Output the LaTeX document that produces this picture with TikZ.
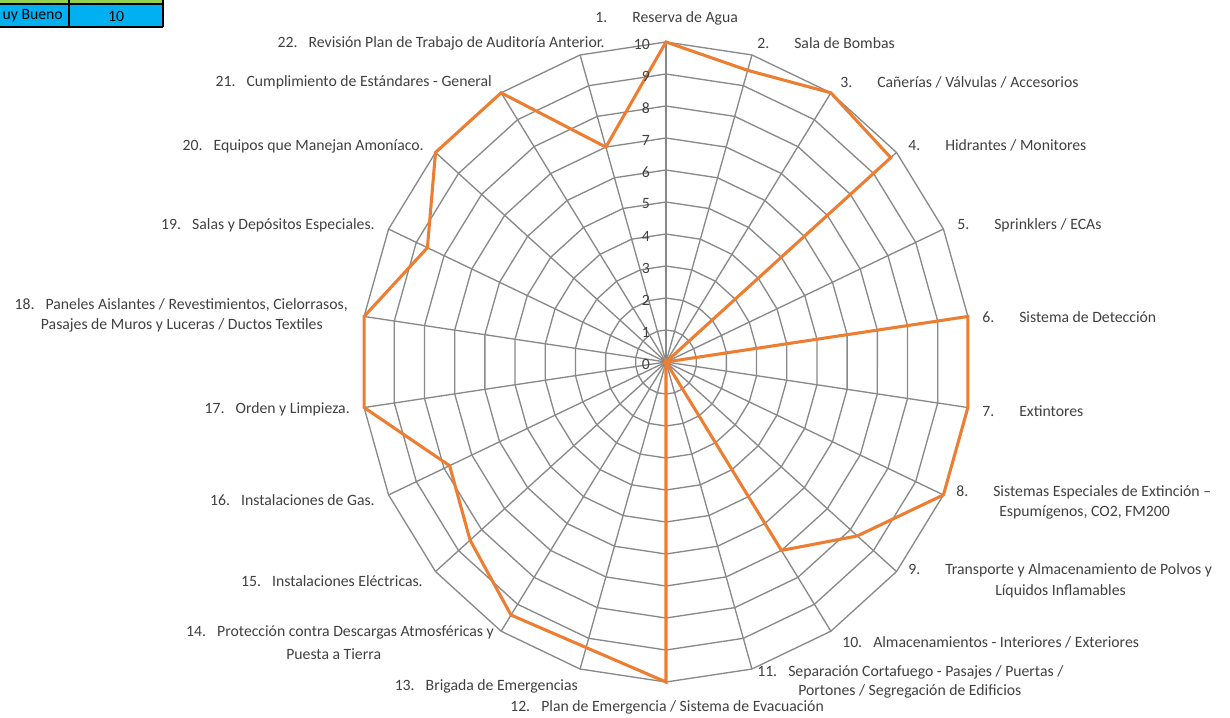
\documentclass[tikz,border=0pt]{standalone}
\usepackage{fontspec}
\setmainfont{Carlito}
\definecolor{txt}{RGB}{64,64,64}
\definecolor{gridgray}{RGB}{137,137,137}
\definecolor{serie}{RGB}{237,125,49}
\definecolor{cellblue}{RGB}{0,176,240}
\definecolor{cellgreen}{RGB}{146,208,80}
% number boxes for the axis captions
\newcommand\numA[1]{\makebox[27.75pt][l]{#1}}
\newcommand\numB[1]{\makebox[23.25pt][l]{#1}}
\tikzset{
  gridline/.style={draw=gridgray, line width=1pt},
  serieline/.style={draw=serie, line width=2.3pt, line join=miter},
  lblW/.style={anchor=west, inner sep=0pt, text=txt, font=\fontsize{11.8pt}{14pt}\selectfont},
  lblE/.style={anchor=east, inner sep=0pt, text=txt, font=\fontsize{11.8pt}{14pt}\selectfont},
  tick/.style={anchor=east, inner sep=0pt, text=txt, font=\fontsize{11.8pt}{14pt}\selectfont},
  cell/.style={draw=black, line width=0.9pt}
}
\begin{document}
\begin{tikzpicture}[x=0.75pt,y=-0.75pt]
\useasboundingbox (0,0) rectangle (1230,717);

% table fragment in the corner
\begin{scope}
  \clip (0,0) rectangle (1230,717);
  \fill[cellgreen] (-10,-10) rectangle (163,4);
  \fill[cellblue] (-10,4) rectangle (163,27);
  \draw[cell] (-10,4) -- (163,4) (-10,27) -- (163,27) (69,-10) -- (69,27) (163,-10) -- (163,27);
  \node[anchor=east, inner sep=0pt, font=\fontsize{11.8pt}{14pt}\selectfont] (cellA) at (63,16) {uy Bueno};
  \node[inner sep=0pt, font=\fontsize{11.8pt}{14pt}\selectfont] (cellB) at (116,16) {10};
\end{scope}

% radar grid
\begin{scope}[shift={(666,362)}, x=22.875pt, y=24pt]
  \coordinate (c) at (0,0);
  \foreach \i in {1,...,22} {
    \coordinate (a\i) at ({90-(\i-1)*360/22}:10);
  }
  \foreach \r in {1,...,10} {
    \draw[gridline] (90:\r) \foreach \i in {1,...,21} { -- ({90-\i*360/22}:\r) } -- cycle;
  }
  \foreach \i in {1,...,22} {
    \draw[gridline] (c) -- (a\i);
  }
  % data series
  \draw[serieline]
    \foreach \v [count=\i from 0] in {10,9.5,10,9.75,0,10,10,10,8.3,7,0,10,9.3,9.4,8.5,7.8,10,10,8.6,10,10,7} {
      \ifnum\i=0 (90:\v) \else -- ({90-\i*360/22}:\v) \fi
    } -- cycle;
\end{scope}

% scale values on the first axis
\foreach \v in {0,...,10} {
  \node[tick] (t\v) at (650,{364-32*\v}) {\v};
}

% axis captions, right half
\node[lblW] (n1) at (595,18) {\numA{1.}Reserva de Agua};
\node[lblW] (n2) at (757,43) {\numA{2.}Sala de Bombas};
\node[lblW] (n3) at (840,82) {\numA{3.}Cañerías / Válvulas / Accesorios};
\node[lblW] (n4) at (908,145) {\numA{4.}Hidrantes / Monitores};
\node[lblW] (n5) at (957,225) {\numA{5.}Sprinklers / ECAs};
\node[lblW] (n6) at (982,317) {\numA{6.}Sistema de Detección};
\node[lblW] (n7) at (982,411) {\numA{7.}Extintores};
\node[lblW] (n8a) at (956,492) {\numA{8.}Sistemas Especiales de Extinción –};
\node[lblW] (n8b) at (999,512) {Espumígenos, CO2, FM200};
\node[lblW] (n9a) at (908,570) {\numA{9.}Transporte y Almacenamiento de Polvos y};
\node[lblW] (n9b) at (995,591) {Líquidos Inflamables};
\node[lblW] (n10) at (842,642) {\numB{10.}Almacenamientos - Interiores / Exteriores};
\node[lblW] (n11a) at (757,672) {\numB{11.}Separación Cortafuego - Pasajes / Puertas /};
\node[lblW] (n11b) at (798,691) {Portones / Segregación de Edificios};
\node[lblW] (n12) at (510,707) {\numB{12.}Plan de Emergencia / Sistema de Evacuación};

% axis captions, left half
\node[lblE] (n13) at (578,686) {\numB{13.}Brigada de Emergencias};
\node[lblE] (n14a) at (494,632) {\numB{14.}Protección contra Descargas Atmosféricas y};
\node[lblW] (n14b) at (286,654) {Puesta a Tierra};
\node[lblE] (n15) at (423,581) {\numB{15.}Instalaciones Eléctricas.};
\node[lblE] (n16) at (375,500) {\numB{16.}Instalaciones de Gas.};
\node[lblE] (n17) at (350,409) {\numB{17.}Orden y Limpieza.};
\node[lblE] (n18a) at (348,305) {\numB{18.}Paneles Aislantes / Revestimientos, Cielorrasos,};
\node[lblE] (n18b) at (323,325) {Pasajes de Muros y Luceras / Ductos Textiles};
\node[lblE] (n19) at (375,225) {\numB{19.}Salas y Depósitos Especiales.};
\node[lblE] (n20) at (424,146) {\numB{20.}Equipos que Manejan Amoníaco.};
\node[lblE] (n21) at (492,82) {\numB{21.}Cumplimiento de Estándares - General};
\node[lblE] (n22) at (605,43) {\numB{22.}Revisión Plan de Trabajo de Auditoría Anterior.};
\end{tikzpicture}
\end{document}
